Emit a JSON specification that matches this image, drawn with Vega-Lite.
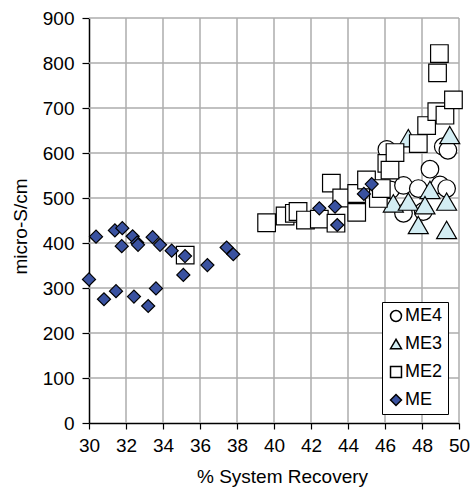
{
  "$schema": "https://vega.github.io/schema/vega-lite/v6.json",
  "width": 370,
  "height": 405,
  "autosize": "none",
  "padding": {"left": 89, "top": 18, "right": 13, "bottom": 68},
  "background": "white",
  "config": {
    "view": {"stroke": null},
    "font": "Liberation Sans",
    "axis": {
      "labelFont": "Liberation Sans",
      "titleFont": "Liberation Sans",
      "labelFontSize": 19,
      "titleFontSize": 19,
      "titleFontWeight": "normal",
      "labelColor": "black",
      "titleColor": "black",
      "domainColor": "black",
      "domainWidth": 1.5,
      "tickColor": "black",
      "tickWidth": 1.2,
      "tickSize": 6,
      "grid": false
    },
    "legend": {
      "labelFont": "Liberation Sans",
      "labelFontSize": 18,
      "labelColor": "black"
    }
  },
  "datasets": {
    "gridx": [{"x": 32}, {"x": 34}, {"x": 36}, {"x": 38}, {"x": 40}, {"x": 42}, {"x": 44}, {"x": 46}, {"x": 48}, {"x": 50}],
    "gridy": [{"y": 100}, {"y": 200}, {"y": 300}, {"y": 400}, {"y": 500}, {"y": 600}, {"y": 700}, {"y": 800}, {"y": 900}],
    "points": [
      {"series": "ME4", "x": 46.1, "y": 608},
      {"series": "ME4", "x": 46.3, "y": 518},
      {"series": "ME4", "x": 47.0, "y": 528},
      {"series": "ME4", "x": 47.0, "y": 466},
      {"series": "ME4", "x": 47.8, "y": 521},
      {"series": "ME4", "x": 48.07, "y": 470},
      {"series": "ME4", "x": 48.43, "y": 564},
      {"series": "ME4", "x": 48.97, "y": 529},
      {"series": "ME4", "x": 49.15, "y": 614},
      {"series": "ME4", "x": 49.33, "y": 521},
      {"series": "ME4", "x": 49.4, "y": 606},
      {"series": "ME3", "x": 47.26, "y": 633},
      {"series": "ME3", "x": 49.5, "y": 640},
      {"series": "ME3", "x": 48.43, "y": 518},
      {"series": "ME3", "x": 46.45, "y": 488},
      {"series": "ME3", "x": 47.26, "y": 492},
      {"series": "ME3", "x": 48.16, "y": 484},
      {"series": "ME3", "x": 49.33, "y": 492},
      {"series": "ME3", "x": 47.8, "y": 440},
      {"series": "ME3", "x": 49.33, "y": 429},
      {"series": "ME2", "x": 35.2, "y": 373},
      {"series": "ME2", "x": 39.6, "y": 445},
      {"series": "ME2", "x": 40.6, "y": 460},
      {"series": "ME2", "x": 41.1, "y": 466},
      {"series": "ME2", "x": 41.3, "y": 470},
      {"series": "ME2", "x": 41.7, "y": 451},
      {"series": "ME2", "x": 42.45, "y": 453},
      {"series": "ME2", "x": 43.1, "y": 533},
      {"series": "ME2", "x": 43.35, "y": 444},
      {"series": "ME2", "x": 43.66, "y": 500},
      {"series": "ME2", "x": 44.47, "y": 468},
      {"series": "ME2", "x": 44.47, "y": 510},
      {"series": "ME2", "x": 45.0, "y": 540},
      {"series": "ME2", "x": 45.64, "y": 499},
      {"series": "ME2", "x": 45.8, "y": 521},
      {"series": "ME2", "x": 46.1, "y": 577},
      {"series": "ME2", "x": 46.27, "y": 562},
      {"series": "ME2", "x": 46.54, "y": 601},
      {"series": "ME2", "x": 47.8, "y": 621},
      {"series": "ME2", "x": 48.25, "y": 661},
      {"series": "ME2", "x": 48.8, "y": 692},
      {"series": "ME2", "x": 49.24, "y": 684},
      {"series": "ME2", "x": 49.7, "y": 718},
      {"series": "ME2", "x": 48.84, "y": 778},
      {"series": "ME2", "x": 48.94, "y": 821},
      {"series": "ME", "x": 30.0, "y": 319},
      {"series": "ME", "x": 30.38, "y": 414},
      {"series": "ME", "x": 30.81, "y": 275},
      {"series": "ME", "x": 31.46, "y": 293},
      {"series": "ME", "x": 31.4, "y": 428},
      {"series": "ME", "x": 31.8, "y": 433},
      {"series": "ME", "x": 31.77, "y": 393},
      {"series": "ME", "x": 32.36, "y": 415},
      {"series": "ME", "x": 32.6, "y": 401},
      {"series": "ME", "x": 32.65, "y": 396},
      {"series": "ME", "x": 32.43, "y": 281},
      {"series": "ME", "x": 33.2, "y": 260},
      {"series": "ME", "x": 33.44, "y": 413},
      {"series": "ME", "x": 33.84, "y": 396},
      {"series": "ME", "x": 33.62, "y": 299},
      {"series": "ME", "x": 34.47, "y": 383},
      {"series": "ME", "x": 35.19, "y": 371},
      {"series": "ME", "x": 35.1, "y": 329},
      {"series": "ME", "x": 36.4, "y": 351},
      {"series": "ME", "x": 37.44, "y": 390},
      {"series": "ME", "x": 37.8, "y": 375},
      {"series": "ME", "x": 42.45, "y": 477},
      {"series": "ME", "x": 43.3, "y": 481},
      {"series": "ME", "x": 43.42, "y": 440},
      {"series": "ME", "x": 44.86, "y": 509},
      {"series": "ME", "x": 45.28, "y": 531}
    ]
  },
  "layer": [
    {
      "data": {"name": "gridx"},
      "mark": {"type": "rule", "color": "#acacac", "strokeWidth": 1.5},
      "encoding": {
        "x": {
          "field": "x", "type": "quantitative",
          "scale": {"domain": [30, 50], "nice": false, "zero": false},
          "axis": {
            "title": "% System Recovery",
            "values": [30, 32, 34, 36, 38, 40, 42, 44, 46, 48, 50],
            "labelPadding": 7,
            "labelFlush": false,
            "titleX": 193,
            "titleY": 59,
            "titleBaseline": "alphabetic"
          }
        }
      }
    },
    {
      "data": {"name": "gridy"},
      "mark": {"type": "rule", "color": "#acacac", "strokeWidth": 1.5},
      "encoding": {
        "y": {
          "field": "y", "type": "quantitative",
          "scale": {"domain": [0, 900], "nice": false},
          "axis": {
            "title": "micro-S/cm",
            "values": [0, 100, 200, 300, 400, 500, 600, 700, 800, 900],
            "labelPadding": 8,
            "tickSize": 7,
            "labelFlush": false,
            "titleX": -63,
            "titleY": 208,
            "titleBaseline": "alphabetic",
            "titleAlign": "center",
            "titleAngle": -90
          }
        }
      }
    },
    {
      "data": {"name": "points"},
      "mark": {"type": "point", "filled": true, "stroke": "black", "strokeWidth": 1.2, "opacity": 1},
      "encoding": {
        "x": {
          "field": "x", "type": "quantitative",
          "scale": {"domain": [30, 50], "nice": false, "zero": false},
          "axis": {
            "title": "% System Recovery",
            "values": [30, 32, 34, 36, 38, 40, 42, 44, 46, 48, 50],
            "labelPadding": 7,
            "labelFlush": false,
            "titleX": 193,
            "titleY": 59,
            "titleBaseline": "alphabetic"
          }
        },
        "y": {
          "field": "y", "type": "quantitative",
          "scale": {"domain": [0, 900], "nice": false},
          "axis": {
            "title": "micro-S/cm",
            "values": [0, 100, 200, 300, 400, 500, 600, 700, 800, 900],
            "labelPadding": 8,
            "tickSize": 7,
            "labelFlush": false,
            "titleX": -63,
            "titleY": 208,
            "titleBaseline": "alphabetic",
            "titleAlign": "center",
            "titleAngle": -90
          }
        },
        "shape": {
          "field": "series", "type": "nominal",
          "scale": {"domain": ["ME4", "ME3", "ME2", "ME"], "range": ["circle", "triangle-up", "square", "diamond"]},
          "legend": {
            "title": null,
            "orient": "none",
            "legendX": 293,
            "legendY": 284,
            "padding": 5,
            "strokeColor": "black",
            "fillColor": "white",
            "symbolSize": 120,
            "labelOffset": 0,
            "rowPadding": 10,
            "encode": {
              "symbols": {
                "update": {
                  "stroke": {"value": "black"},
                  "strokeWidth": {"value": 1},
                  "opacity": {"value": 1},
                  "size": {"value": 120}
                }
              }
            }
          }
        },
        "fill": {
          "field": "series", "type": "nominal",
          "scale": {"domain": ["ME4", "ME3", "ME2", "ME"], "range": ["white", "#d3edf3", "white", "#3a52a0"]}
        },
        "size": {
          "condition": [
            {"test": "datum.series === 'ME'", "value": 170},
            {"test": "datum.series === 'ME3'", "value": 400}
          ],
          "value": 310
        }
      }
    }
  ]
}
